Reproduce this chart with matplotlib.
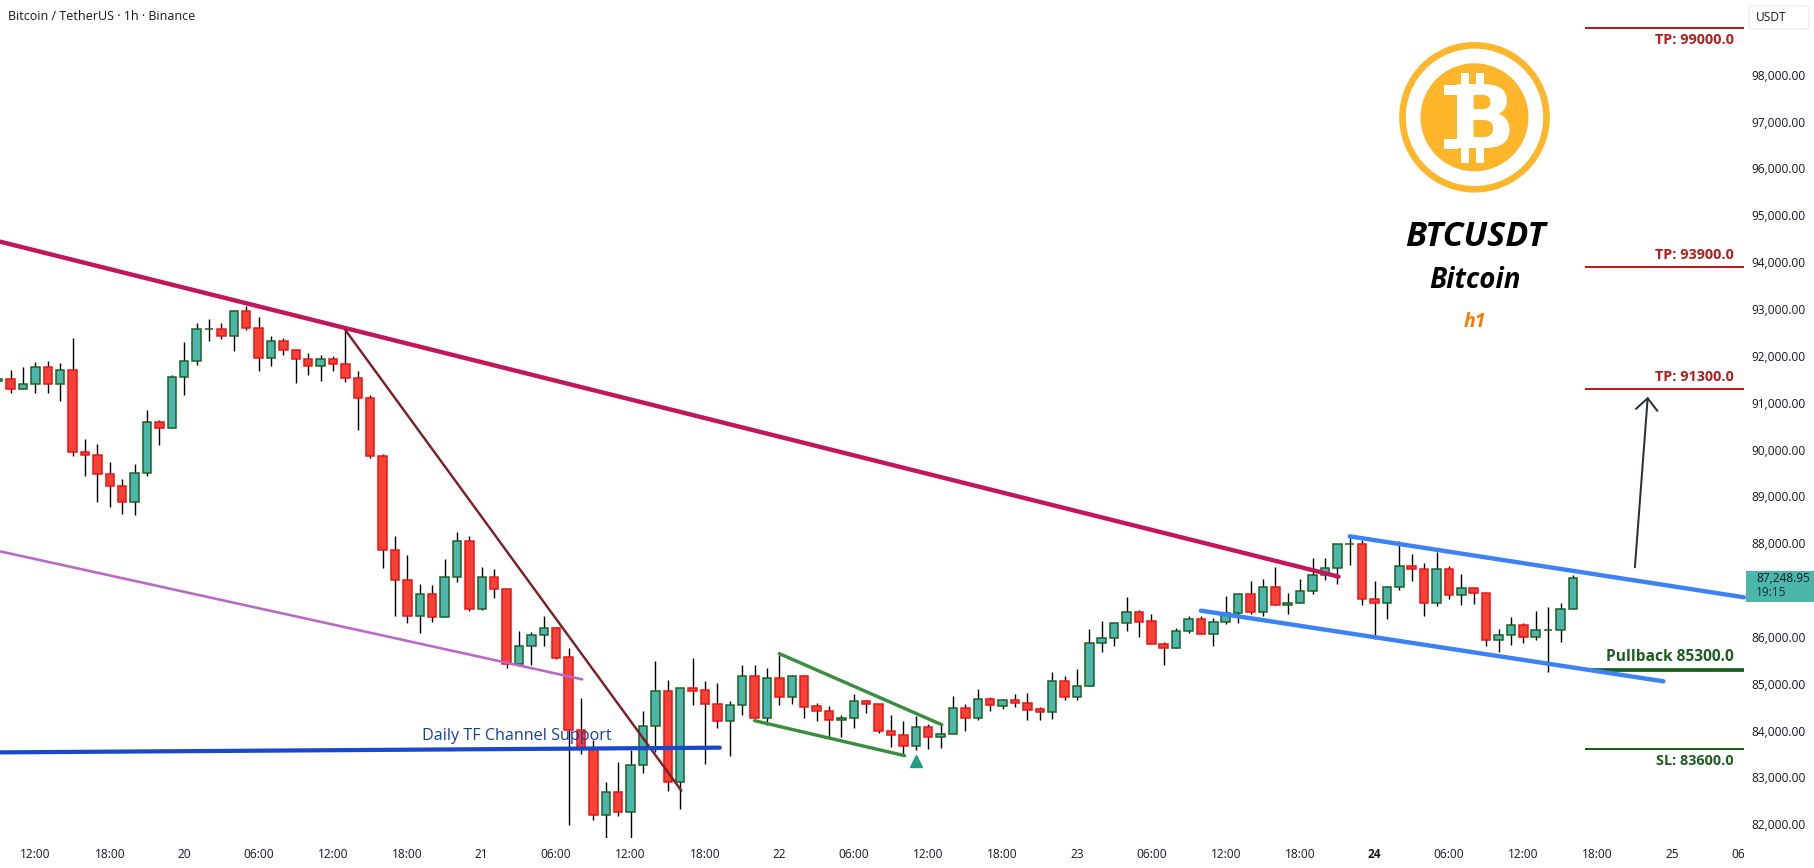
import matplotlib
matplotlib.use("Agg")
import matplotlib.pyplot as plt
from matplotlib.patches import Circle, Rectangle, FancyBboxPatch
from matplotlib.transforms import Bbox, IdentityTransform, TransformedBbox

# ---------- data ----------
first_bar = -39  # hours relative to the 21st 00:00
direction = ("GRGGRGRRRR" "RGGRGGGGRG" "RRGRRRGRRR" "RRRRGRGGRG" "RRGGGRRRRG" "RGGGRGRRRG" "GRGRGRRRGG"
             "RRRRGRGGRG" "RGRRRGRGGG" "GGRRRGGRGG" "GRGRGGGGGG" "RRGGRRGRGR" "RGGRGGGG")
body_top = [91498,91498,91391,91754,91754,91690,91690,89940,89876,89470,
            89214,89492,90580,90580,91541,91882,92565,92565,92565,92950,
            92950,92587,92309,92309,92117,91925,91925,91925,91818,91519,
            91093,89854,87848,87207,86908,86908,87271,88040,88040,87271,
            87271,87029,85799,86033,86183,86183,85564,84020,83621,82682,
            82682,83258,84091,84838,84838,84902,84902,84859,84560,84539,
            85158,85158,85115,85115,85158,85158,84518,84411,84262,84624,
            84624,84560,83984,83899,84070,84070,83920,84475,84475,84667,
            84667,84646,84646,84582,84454,85052,85052,84945,85863,85969,
            86290,86524,86524,86332,85841,86119,86375,86375,86311,86503,
            86909,86909,87058,87058,86716,86973,87314,87464,87976,87976,
            87976,86802,87058,87506,87506,87442,87442,87442,87037,87037,
            86930,86033,86247,86247,86140,86140,86588,87249]
body_bottom = [91455,91285,91285,91391,91391,91391,89940,89876,89470,89214,
               88873,88873,89492,90452,90452,91541,91882,92565,92416,92416,
               92587,91946,91946,92117,91925,91776,91776,91818,91519,91093,
               89854,87848,87208,86453,86453,86432,86432,87271,86603,86603,
               87029,85414,85414,85799,86033,85557,84020,83621,82191,82191,
               82270,82270,83258,84091,82910,82910,84852,84560,84198,84198,
               84539,84262,84262,84710,84710,84511,84411,84219,84219,84262,
               84560,83984,83899,83664,83664,83856,83856,83920,84262,84262,
               84539,84532,84582,84447,84390,84390,84710,84710,84945,85863,
               85969,86290,86325,85841,85756,85756,86119,86055,86055,86311,
               86503,86524,86524,86674,86674,86716,86973,87314,87464,87976,
               86802,86716,86716,87058,87442,86716,86716,86887,86887,86930,
               85927,85927,86033,85991,85991,86140,86140,86588]
highs = [91530,91697,91761,91868,91889,91847,92380,90225,90118,89733,
         89364,89684,90844,90630,91583,92295,92693,92786,92693,92971,
         93063,92829,92423,92380,92117,92060,92018,91996,92537,91676,
         91157,89897,88154,87748,87129,87108,87656,88239,88154,87492,
         87449,87029,86126,86104,86446,86218,85756,84696,83799,82903,
         83330,83586,84425,85485,85080,84902,85550,85051,85016,84632,
         85400,85400,85336,85613,85180,85180,84582,84525,84326,84781,
         84653,84560,84333,84205,84319,84134,84112,84738,84560,84881,
         84717,84674,84781,84803,84497,85251,85165,85315,86169,86339,
         86290,86852,86574,86482,85884,86183,86446,86446,86396,86873,
         86909,87193,87236,87492,86937,87236,87684,87684,87976,88139,
         88068,87193,87086,88040,87770,87570,87819,87513,87343,87037,
         86930,86169,86425,86290,86553,86638,86724,87314]
lows = [91420,91213,91285,91213,91213,91043,89869,89442,88887,88780,
        88631,88609,89442,90104,90452,91171,91811,92323,92366,92110,
        92558,91676,91790,92025,91427,91598,91470,91683,91448,90424,
        89826,87478,86440,86304,86090,86325,86432,87179,86560,86581,
        86837,85343,85414,85393,85813,85535,81992,83508,82092,81672,
        82184,81672,83102,83536,82718,82333,84553,83294,84062,83465,
        84340,84262,84112,84553,84575,84276,84212,83856,83863,84062,
        84383,83942,83657,83479,83586,83614,83636,83920,84000,84219,
        84425,84468,84504,84233,84233,84255,84660,84660,84945,85678,
        85813,86133,86005,85841,85407,85756,86076,86055,85813,86268,
        86304,86482,86446,86674,86496,86716,86923,87214,87129,87542,
        86681,85948,86389,87001,87193,86446,86660,86816,86681,86709,
        85813,85678,85827,85877,85941,85258,85898,86588]

x_ticks = list(range(-36, 103, 6))
x_labels = ["12:00","18:00","20","06:00","12:00","18:00","21","06:00","12:00","18:00","22","06:00","12:00","18:00",
            "23","06:00","12:00","18:00","24","06:00","12:00","18:00","25","06:00"]
y_ticks = [v for v in range(82000, 99000, 1000) if v != 87000]

trend_main = ([-38.85, 69.1], [94437, 87286])
trend_steep = ([-11, 16.1], [92551, 82718])
trend_purple = ([-38.85, 8.1], [87827, 85094])
support = ([-38.85, 19.2], [83535, 83636])
wedge_upper = ([24, 37.1], [85642, 84126])
wedge_lower = ([22, 34.1], [84212, 83465])
channel_upper = ([70, 101.8], [88147, 86845])
channel_lower = ([58, 95.3], [86560, 85052])
arrow_shaft = ([93.0, 94.03], [87486, 91093])
arrow_head = ([93.1, 94.03, 94.8], [90871, 91093, 90829])
targets = [99000, 93900, 91300]
pullback = 85300
stop = 83600
last_price = 87248.95

# ---------- figure ----------
W, H = 1815, 868
AX_R, AX_B = 1746.5, 838.0
fig = plt.figure(figsize=(W/100, H/100), dpi=100, facecolor="white")
ax = fig.add_axes([0, 1 - AX_B/H, AX_R/W, AX_B/H])
ax.set_xlim(-38.85, 102)
p_per_px = 21.345
ax.set_ylim(82000 - (AX_B - 824.3)*p_per_px, 82000 + 824.3*p_per_px)
for s in ax.spines.values():
    s.set_visible(False)

px = 0.72  # points per pixel
UI = "Open Sans"

idx = [first_bar + i for i in range(len(direction))]
GREEN_F, GREEN_E, RED_F, RED_E = "#4DB6AC", "#1B5E20", "#F44336", "#EE1111"
ax.vlines(idx, lows, highs, color="black", lw=1.4*px, zorder=2)
for i, d, t, b in zip(idx, direction, body_top, body_bottom):
    f, e = (GREEN_F, GREEN_E) if d == "G" else (RED_F, RED_E)
    ax.bar(i, t - b, bottom=b, width=0.68, facecolor=f, edgecolor=e, linewidth=1.5*px, zorder=3)

def seg(line, color, w, zo=5, cap="round"):
    ax.plot(line[0], line[1], color=color, lw=w*px, solid_capstyle=cap, zorder=zo)

seg(trend_purple, "#BA68C8", 2.6)
seg(trend_main, "#C2185B", 4.4)
seg(trend_steep, "#7F1D25", 2.4)
seg(support, "#1848CC", 4.2)
seg(wedge_upper, "#388E3C", 3.4)
seg(wedge_lower, "#388E3C", 3.4)
ax.plot([35], [83358], marker="^", ms=11*px*1.05, color="#1E9E87", mec="#1E9E87", zorder=6, ls="none")

lvl_l, lvl_r = 89.0, 101.8
for t in targets:
    ax.plot([lvl_l, lvl_r], [t, t], color="#B71C1C", lw=2*px, solid_capstyle="butt", zorder=4)
ax.plot([lvl_l, lvl_r], [stop, stop], color="#1B5E20", lw=2*px, solid_capstyle="butt", zorder=4)
ax.plot([89.5, lvl_r], [pullback, pullback], color="#1B5E20", lw=3.8*px, solid_capstyle="butt", zorder=4)
seg(channel_upper, "#3B82F6", 4.4, zo=6)
seg(channel_lower, "#3B82F6", 4.4, zo=6)

ax.plot(*arrow_shaft, color="#2A2E39", lw=2*px, zorder=6, solid_capstyle="round")
ax.plot(*arrow_head, color="#2A2E39", lw=2*px, zorder=6, solid_joinstyle="miter")

rt = 101.0
ax.text(rt, 98750, "TP: 99000.0", color="#B71C1C", ha="right", va="center", fontsize=10.4, fontweight="bold", family=UI)
ax.text(rt, 94145, "TP: 93900.0", color="#B71C1C", ha="right", va="center", fontsize=10.4, fontweight="bold", family=UI)
ax.text(rt, 91545, "TP: 91300.0", color="#B71C1C", ha="right", va="center", fontsize=10.4, fontweight="bold", family=UI)
ax.text(rt, 85570, "Pullback 85300.0", color="#1B5E20", ha="right", va="center", fontsize=11.2, fontweight="bold", family=UI)
ax.text(rt, 83360, "SL: 83600.0", color="#1B5E20", ha="right", va="center", fontsize=10.4, fontweight="bold", family=UI)
ax.text(2.85, 83890, "Daily TF Channel Support", color="#153EA8", ha="center", va="center", fontsize=11.6, family=UI, zorder=7)

# axes
ax.set_xticks(x_ticks)
ax.set_xticklabels(x_labels, fontsize=8.6, family=UI, color="#131722")
ax.yaxis.tick_right()
ax.set_yticks(y_ticks)
ax.set_yticklabels([f"{v:,.2f}" for v in y_ticks], fontsize=8.6, family=UI, color="#131722")
ax.tick_params(axis="both", length=0)
ax.tick_params(axis="x", pad=7)
ax.tick_params(axis="y", pad=3.8)
clip = TransformedBbox(Bbox([[0, 0], [1744, H]]), IdentityTransform())
for lab in ax.get_xticklabels():
    lab.set_clip_box(clip)
    lab.set_clip_on(True)
    if lab.get_text() == "24":
        lab.set_fontweight("bold")

# overlay in pixel coordinates for logo, header and price tags
ov = fig.add_axes([0, 0, 1, 1], zorder=10)
ov.set_xlim(0, W)
ov.set_ylim(H, 0)
ov.axis("off")
ov.patch.set_alpha(0)

ORANGE = "#FDB52A"
ov.add_patch(Circle((1474.5, 117.3), 72, fc="none", ec=ORANGE, lw=6.6*px))
ov.add_patch(Circle((1474.5, 117.3), 54, fc=ORANGE, ec="none"))
ov.text(1449, 148.5, "B", color="white", fontsize=63, fontweight="bold", family="DejaVu Sans", ha="left", va="baseline")
for rx, ry, rw, rh in [(1461.5, 72.7, 8, 14), (1476.5, 72.7, 8, 14), (1461.5, 147, 8, 15.7), (1476.5, 147, 8, 15.7),
                        (1444.5, 85, 14, 10), (1444.5, 138.5, 14, 10)]:
    ov.add_patch(Rectangle((rx, ry), rw, rh, fc="white", ec="none"))

ov.text(1475, 237, "BTCUSDT", color="black", ha="center", va="center", fontsize=24.6, fontweight="bold", style="italic", family=UI)
ov.text(1475, 280, "Bitcoin", color="black", ha="center", va="center", fontsize=20, fontweight="bold", style="italic", family=UI)
ov.text(1475, 322, "h1", color="#F57C00", ha="center", va="center", fontsize=14, fontweight="bold", style="italic", family=UI)

ov.text(8, 16.5, "Bitcoin / TetherUS · 1h · Binance", color="#131722", ha="left", va="center", fontsize=9.0, fontweight="medium", family=UI)

ov.add_patch(FancyBboxPatch((1749, 6), 60, 23, boxstyle="round,pad=0,rounding_size=3", fc="white", ec="#E6E6E6", lw=1*px))
ov.text(1756, 17.5, "USDT", color="#131722", ha="left", va="center", fontsize=8.6, family=UI)

ov.add_patch(Rectangle((1746, 571), 69, 30.7, fc="#4DB6AC", ec="none"))
ov.text(1756, 579, f"{last_price:,.2f}", color="#0B1A1A", ha="left", va="center", fontsize=8.6, family=UI)
ov.text(1756, 592.7, "19:15", color="#123333", ha="left", va="center", fontsize=8.6, family=UI)

fig.savefig("out.png", dpi=100)
